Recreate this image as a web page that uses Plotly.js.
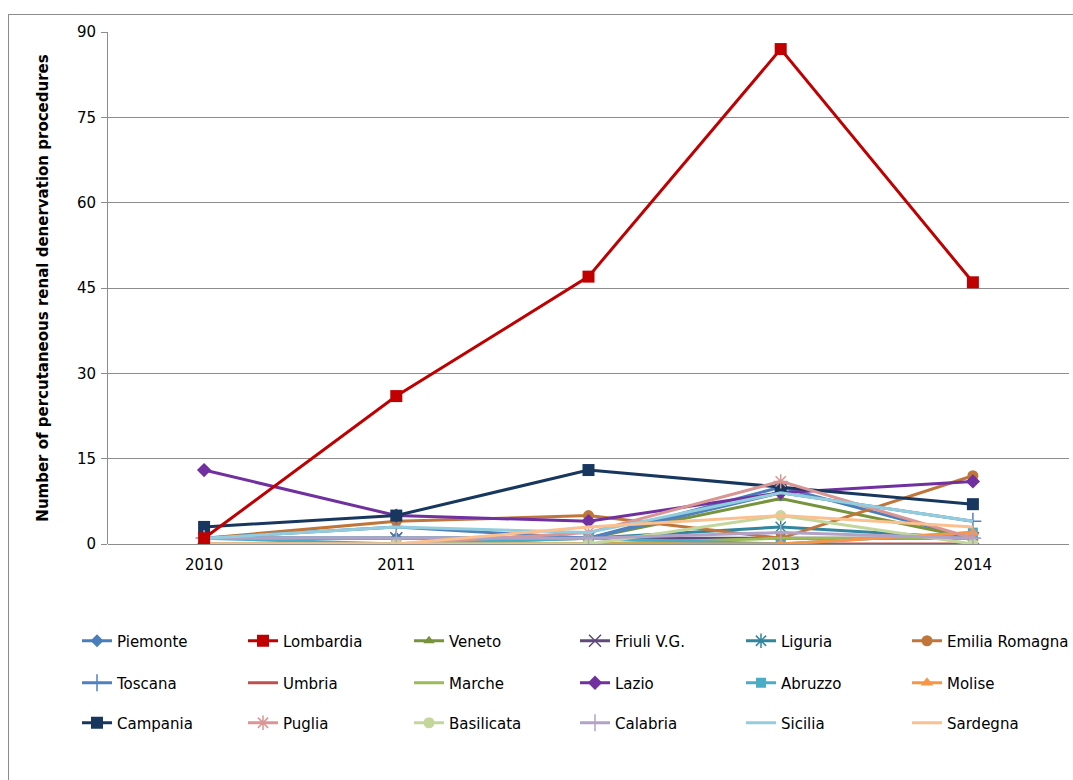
<!DOCTYPE html>
<html>
<head>
<meta charset="utf-8">
<script src="https://cdn.plot.ly/plotly-3.0.1.min.js"></script>
<style>
  html, body { margin: 0; padding: 0; background: #fff; }
  #wrap { position: relative; width: 1073px; height: 780px; }
  #frame { position: absolute; left: 8px; top: 14px; width: 1080px; height: 800px; border: 1px solid #8c8c8c; box-sizing: border-box; pointer-events: none; }
  #chart { position: absolute; left: 0; top: 0; width: 1073px; height: 780px; }
</style>
</head>
<body>
<div id="wrap">
  <div id="frame"></div>
  <div id="chart"></div>
</div>
<script>
const years = ["2010", "2011", "2012", "2013", "2014"];

const regions = ["Piemonte", "Lombardia", "Veneto", "Friuli V.G.", "Liguria", "Emilia Romagna",
                 "Toscana", "Umbria", "Marche", "Lazio", "Abruzzo", "Molise",
                 "Campania", "Puglia", "Basilicata", "Calabria", "Sicilia", "Sardegna"];

const piemonte   = [1, 1, 1, 10, 1];
const lombardia  = [1, 26, 47, 87, 46];
const veneto     = [0, 0, 1, 8, 1];
const friuli     = [1, 1, 1, 1, 1];
const liguria    = [1, 1, 1, 3, 1];
const emilia     = [1, 4, 5, 1, 12];
const toscana    = [1, 3, 1, 9, 4];
const umbria     = [0, 0, 0, 0, 0];
const marche     = [0, 0, 0, 1, 1];
const lazio      = [13, 5, 4, 9, 11];
const abruzzo    = [1, 0, 1, 0, 2];
const molise     = [0, 0, 0, 0, 2];
const campania   = [3, 5, 13, 10, 7];
const puglia     = [0, 0, 2, 11, 1];
const basilicata = [0, 0, 0, 5, 0];
const calabria   = [1, 1, 1, 2, 1];
const sicilia    = [1, 3, 2, 9, 4];
const sardegna   = [0, 0, 3, 5, 3];

const seriesValues = [piemonte, lombardia, veneto, friuli, liguria, emilia,
                      toscana, umbria, marche, lazio, abruzzo, molise,
                      campania, puglia, basilicata, calabria, sicilia, sardegna];

const colors = ["#4A7EBB", "#C00000", "#77933C", "#604A7B", "#31859C", "#C0763A",
                "#4F81BD", "#C0504D", "#9BBB59", "#7030A0", "#4BACC6", "#F79646",
                "#17375E", "#D99694", "#C3D69B", "#B3A2C7", "#93CDDD", "#FAC090"];

const symbols = ["diamond", "square", "triangle-up", "x-thin-open", "asterisk-open", "circle",
                 "cross-thin-open", null, null, "diamond", "square", "triangle-up",
                 "square", "asterisk-open", "circle", "cross-thin-open", null, null];

const sizes = [10, 12, 10, 12, 12, 11, 12, 0, 0, 11, 10, 11, 12, 12, 11, 12, 0, 0];

const legendIds = ["legend", "legend2", "legend3"];

const traces = regions.map((name, i) => {
  const sym = symbols[i];
  const thin = sym && sym.indexOf("open") >= 0;
  const t = {
    type: "scatter",
    x: years,
    y: seriesValues[i],
    name: name,
    mode: sym ? "lines+markers" : "lines",
    line: { color: colors[i], width: 3 },
    legend: legendIds[Math.floor(i / 6)],
    legendrank: i + 1
  };
  if (sym) {
    t.marker = {
      symbol: sym,
      size: sizes[i],
      color: colors[i],
      line: { color: colors[i], width: thin ? 1.5 : 0 }
    };
  }
  return t;
});

// draw order: Lombardia on top
const order = [];
for (let i = 0; i < traces.length; i++) if (i !== 1) order.push(traces[i]);
order.push(traces[1]);

const FONT = "DejaVu Sans, Verdana, sans-serif";

const legendBase = {
  orientation: "h",
  entrywidth: 121,
  entrywidthmode: "pixels",
  x: -0.027,
  xanchor: "left",
  yanchor: "middle",
  font: { family: FONT, size: 15, color: "#000" },
  bgcolor: "rgba(0,0,0,0)",
  traceorder: "normal",
  itemwidth: 30
};

const plotTop = 32, plotBottom = 544;
function ly(py) { return (plotBottom - py) / (plotBottom - plotTop); }

const layout = {
  width: 1073,
  height: 780,
  margin: { l: 108, r: 4, t: plotTop, b: 780 - plotBottom },
  paper_bgcolor: "rgba(0,0,0,0)",
  plot_bgcolor: "rgba(0,0,0,0)",
  font: { family: FONT, size: 15, color: "#000" },
  showlegend: true,
  xaxis: {
    type: "category",
    range: [-0.5, 4.5],
    showgrid: false,
    zeroline: false,
    showline: false,
    ticks: "",
    tickfont: { size: 15 },
    ticklabelstandoff: 10,
    fixedrange: true
  },
  yaxis: {
    range: [0, 90],
    dtick: 15,
    tick0: 0,
    showgrid: true,
    gridcolor: "#8c8c8c",
    gridwidth: 1,
    zeroline: true,
    zerolinecolor: "#8c8c8c",
    zerolinewidth: 1,
    showline: true,
    linecolor: "#8c8c8c",
    linewidth: 1,
    ticks: "outside",
    ticklen: 6,
    tickcolor: "#8c8c8c",
    tickfont: { size: 15 },
    ticklabelstandoff: 2,
    title: {
      text: "<b>Number of percutaneous renal denervation procedures</b>",
      font: { size: 15, family: FONT },
      standoff: 24
    },
    fixedrange: true
  },
  legend: Object.assign({}, legendBase, { y: ly(641) }),
  legend2: Object.assign({}, legendBase, { y: ly(683) }),
  legend3: Object.assign({}, legendBase, { y: ly(723) })
};

Plotly.newPlot("chart", order, layout, { displayModeBar: false, staticPlot: true });
</script>
</body>
</html>
